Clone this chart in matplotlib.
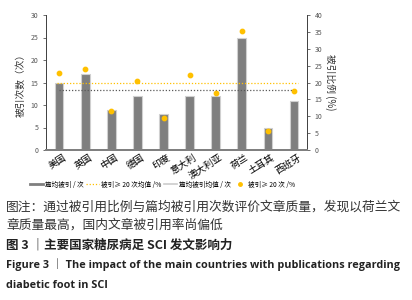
import matplotlib.pyplot as plt
from matplotlib.lines import Line2D

plt.rcParams['font.family'] = ['Noto Sans CJK SC', 'DejaVu Sans']

countries = ["美国", "英国", "中国", "德国", "印度", "意大利", "澳大利亚", "荷兰", "土耳其", "西班牙"]
cites_per_paper = [15, 17, 9, 12, 8, 12, 12, 25, 5, 11]
pct_cited_20 = [22.7, 24.0, 11.6, 20.5, 9.6, 22.3, 16.9, 35.2, 5.7, 17.6]
mean_cites = 13.3
mean_pct = 19.8

BAR = "#7f7f7f"
GOLD = "#ffc000"
DARK = "#595959"

fig = plt.figure(figsize=(4.12, 3.0), dpi=100)
ax = fig.add_axes([0.112, 0.5, 0.633, 0.45])
ax2 = ax.twinx()

x = range(len(countries))
ax.bar(x, cites_per_paper, width=0.33, color=BAR, edgecolor="#d0d0d0", linewidth=0.8, zorder=2)
ax.plot([0, len(countries) - 1], [mean_cites, mean_cites], color=DARK, linestyle=(0, (1, 1.5)), linewidth=0.9, zorder=3)
ax2.plot([-0.1, len(countries) - 0.85], [mean_pct, mean_pct], color=GOLD, linestyle=(0, (1, 1.5)), linewidth=0.9, zorder=3)
ax2.scatter(x, pct_cited_20, s=10, color=GOLD, zorder=4)

ax.set_xlim(-0.5, len(countries) - 0.5)
ax.set_ylim(0, 30)
ax.set_yticks(range(0, 31, 5))
ax2.set_ylim(0, 40)
ax2.set_yticks(range(0, 41, 5))

ax.set_xticks([i + 0.15 for i in x])
ax.set_xticklabels(countries, rotation=32, ha="right", rotation_mode="anchor", fontsize=6.8)
ax.tick_params(axis="x", length=0, pad=2)
ax.tick_params(axis="y", labelsize=5, colors="#555555", length=2, width=0.6)
ax2.tick_params(axis="y", labelsize=5, colors="#555555", length=2, width=0.6)
for a in (ax, ax2):
    a.spines["top"].set_visible(False)
    a.spines["left"].set_color("#444444")
    a.spines["right"].set_color("#444444")
    a.spines["left"].set_linewidth(0.7)
    a.spines["right"].set_linewidth(0.7)
    a.spines["bottom"].set_color("#808080")
    a.spines["bottom"].set_linewidth(1.4)
ax.set_zorder(ax2.get_zorder() - 1)
ax.patch.set_visible(False)

ax.set_ylabel("被引次数（次）", fontsize=7, color="#333333", labelpad=4)
ax2.set_ylabel("被引比例 (%)", fontsize=7, color="#333333", rotation=270, labelpad=10)

handles = [
    Line2D([], [], color=BAR, linewidth=2),
    Line2D([], [], color=GOLD, linestyle=(0, (1, 1.5)), linewidth=0.9),
    Line2D([], [], color="#cccccc", linewidth=1.2),
    Line2D([], [], color=GOLD, marker="o", markersize=2.5, linestyle="none"),
]
labels = ["篇均被引 / 次", "被引≥ 20 次均值 /%", "篇均被引均值 / 次", "被引≥ 20 次 /%"]
fig.legend(handles, labels, loc="center", bbox_to_anchor=(0.395, 0.385), ncol=4, fontsize=4.8,
           frameon=False, handlelength=2.0, handletextpad=0.3, columnspacing=0.3)

cap = "#333333"
fig.text(0.015, 0.31, "图注：通过被引用比例与篇均被引用次数评价文章质量，发现以荷兰文", fontsize=9.2, color=cap, va="center")
fig.text(0.015, 0.25, "章质量最高，国内文章被引用率尚偏低", fontsize=9.2, color=cap, va="center")
fig.text(0.015, 0.183, "图 3 ｜主要国家糖尿病足 SCI 发文影响力", fontsize=9, color="#222222", va="center", weight="bold")
fig.text(0.015, 0.117, "Figure 3 ｜ The impact of the main countries with publications regarding",
         fontsize=7.8, color="#222222", va="center", weight="bold", family=["Open Sans", "Noto Sans CJK SC"])
fig.text(0.015, 0.05, "diabetic foot in SCI", fontsize=7.8, color="#222222", va="center", weight="bold",
         family=["Open Sans", "Noto Sans CJK SC"])

fig.savefig("out.png", dpi=100)
